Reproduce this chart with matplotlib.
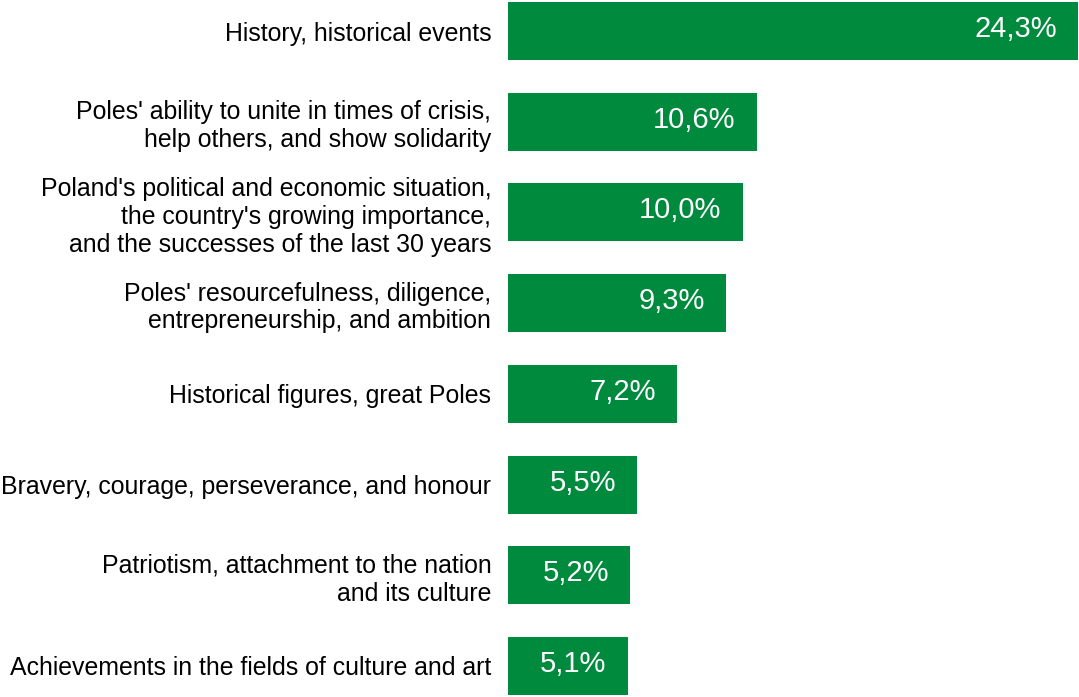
import numpy as np
import matplotlib.pyplot as plt

# data
labels = [
    "History, historical events",
    "Poles' ability to unite in times of crisis,\nhelp others, and show solidarity",
    "Poland's political and economic situation,\nthe country's growing importance,\nand the successes of the last 30 years",
    "Poles' resourcefulness, diligence,\nentrepreneurship, and ambition",
    "Historical figures, great Poles",
    "Bravery, courage, perseverance, and honour",
    "Patriotism, attachment to the nation\nand its culture",
    "Achievements in the fields of culture and art",
]
values = [24.3, 10.6, 10.0, 9.3, 7.2, 5.5, 5.2, 5.1]

plt.rcParams['font.family'] = ['Liberation Sans', 'DejaVu Sans']

fig = plt.figure(figsize=(10.79, 6.97), dpi=100)
ax = fig.add_axes([508/1079, 2/697, 570/1079, 693/697])

y = np.arange(len(values))
bh = 0.64
ax.barh(y, values, height=bh, color='#008a3e')
ax.set_xlim(0, max(values))
ax.set_ylim(len(values) - 1 + bh/2, -bh/2)

ax.set_yticks(y)
ax.set_yticklabels(labels, fontsize=17.9, linespacing=1.2, ha='right')
ax.tick_params(axis='y', length=0, pad=12)
ax.set_xticks([])
for s in ax.spines.values():
    s.set_visible(False)

for yi, v in zip(y, values):
    ax.annotate(f"{v:.1f}%".replace('.', ','), xy=(v, yi), xytext=(-21, 2),
                textcoords='offset pixels', ha='right', va='center',
                color='white', fontsize=21)

fig.savefig('out.png', dpi=100)
